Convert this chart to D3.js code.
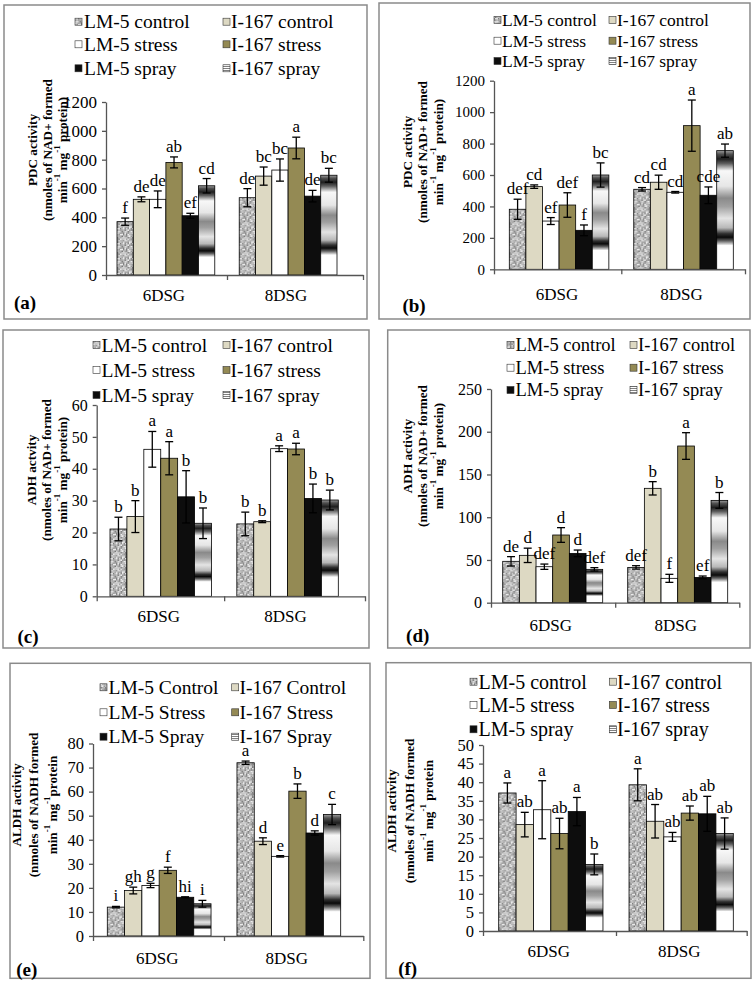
<!DOCTYPE html>
<html><head><meta charset="utf-8">
<script src="https://cdn.jsdelivr.net/npm/d3@7/dist/d3.min.js"></script>
<style>
body{margin:0;background:#fff}
svg{display:block}
text{font-family:"Liberation Serif","Times New Roman",serif;fill:#000}
</style>
</head><body>
<svg id="chart" width="753" height="981"></svg>
<script>
// ---------------- DATA ----------------
const categories = ["6DSG", "8DSG"];
const seriesNames = ["LM-5 control", "I-167 control", "LM-5 stress", "I-167 stress", "LM-5 spray", "I-167 spray"];
const seriesNamesCap = ["LM-5 Control", "I-167 Control", "LM-5 Stress", "I-167 Stress", "LM-5 Spray", "I-167 Spray"];

// (a) PDC activity
const aTicks = [0, 200, 400, 600, 800, 1000, 1200];
const aMean6 = [370, 525, 525, 781, 411, 619];
const aMean8 = [536, 686, 728, 881, 547, 692];
const aErr6 = [25, 17, 58, 38, 17, 50];
const aErr8 = [63, 63, 77, 75, 40, 48];
const aLet6 = ["f", "de", "de", "ab", "ef", "cd"];
const aLet8 = ["de", "bc", "bc", "a", "de", "bc"];

// (b) PDC activity
const bTicks = [0, 200, 400, 600, 800, 1000, 1200];
const bMean6 = [382, 526, 307, 409, 248, 600];
const bMean8 = [509, 554, 490, 914, 471, 755];
const bErr6 = [64, 11, 22, 78, 34, 77];
const bErr8 = [11, 45, 5, 163, 53, 42];
const bLet6 = ["def", "cd", "ef", "def", "f", "bc"];
const bLet8 = ["cd", "cd", "cd", "a", "cde", "ab"];

// (c) ADH activity
const cTicks = [0, 10, 20, 30, 40, 50, 60];
const cMean6 = [21.1, 25.0, 46.1, 43.3, 31.2, 22.9];
const cMean8 = [22.7, 23.4, 46.3, 46.2, 30.7, 30.2];
const cErr6 = [3.7, 5.0, 5.6, 5.2, 8.2, 4.8];
const cErr8 = [3.7, 0.3, 0.9, 1.8, 4.5, 3.1];
const cLet6 = ["b", "b", "a", "a", "b", "b"];
const cLet8 = ["b", "b", "a", "a", "b", "b"];

// (d) ADH activity
const dTicks = [0, 50, 100, 150, 200, 250];
const dMean6 = [48.4, 55.4, 42.1, 79.2, 57.7, 39.0];
const dMean8 = [41.3, 133.8, 28.5, 183.3, 29.6, 119.7];
const dErr6 = [5.5, 8.4, 3.1, 8.6, 3.9, 2.0];
const dErr8 = [2.0, 7.8, 4.7, 15.6, 1.6, 9.2];
const dLet6 = ["de", "d", "def", "d", "d", "def"];
const dLet8 = ["def", "b", "f", "a", "ef", "b"];

// (e) ALDH activity
const eTicks = [0, 10, 20, 30, 40, 50, 60, 70, 80];
const eMean6 = [12.0, 18.9, 21.0, 27.3, 16.1, 13.4];
const eMean8 = [72.0, 39.4, 33.1, 60.2, 42.8, 50.5];
const eErr6 = [0.3, 1.4, 0.9, 1.3, 0.2, 1.4];
const eErr8 = [0.7, 1.4, 0.3, 3.0, 0.9, 4.2];
const eLet6 = ["i", "gh", "g", "f", "hi", "i"];
const eLet8 = ["a", "d", "e", "b", "d", "c"];

// (f) ALDH activity
const fTicks = [0, 5, 10, 15, 20, 25, 30, 35, 40, 45, 50];
const fMean6 = [37.1, 28.6, 32.6, 26.2, 32.1, 17.9];
const fMean8 = [39.3, 29.5, 25.3, 31.7, 31.5, 26.2];
const fErr6 = [2.7, 3.3, 7.8, 4.1, 3.8, 2.8];
const fErr8 = [4.3, 4.5, 1.2, 1.9, 4.7, 4.2];
const fLet6 = ["a", "ab", "a", "ab", "a", "b"];
const fLet8 = ["a", "ab", "ab", "ab", "ab", "ab"];

// axis titles
const titlePDC = ["PDC activity", "(nmoles of NAD+ formed", [["min"], ["-1", 1], [" mg"], ["-1", 1], [" protein)"]]];
const titleADHc = ["ADH actvity", "(nmoles of NAD+ formed", [["min"], ["-1", 1], [" mg"], ["-1", 1], [" protein)"]]];
const titleADHd = ["ADH activity", "(nmoles of NAD+ formed", [["min"], ["-1", 1], [" mg"], ["-1", 1], [" protein)"]]];
const titleALDHe = ["ALDH activity", "(nmoles of NADH formed", [["min"], ["-1", 1], [" mg"], ["-1", 1], ["protein"]]];
const titleALDHf = ["ALDH activity", "(nmoles of NADH formed", [["min"], ["-1", 1], [" mg"], ["-1", 1], [" protein"]]];

// ---------------- STYLE / LAYOUT ----------------
const fills = ["url(#granite)", "#DDD9C3", "#FFFFFF", "#948A54", "#0d0d0d", "url(#chrome)"];
const legendFills = ["url(#granite)", "#DDD9C3", "#FFFFFF", "#948A54", "#0d0d0d", "url(#stripes)"];

const panels = [
  {tag: "(a)", ticks: aTicks, mean: [aMean6, aMean8], err: [aErr6, aErr8], lets: [aLet6, aLet8], names: seriesNames, title: titlePDC,
   box: [4, 5, 367, 319], axisX: 106, axisEnd: 363, y0: 275, yTop: 102, bars: [117, 337], tickFs: 17,
   legRows: [21.7, 44.3, 68.3], legSw: [75, 223], legTx: [84, 231], legFs: 19.5,
   titleX: [32, 47, 62], titleY: 150, catY: 295, tagPos: [25, 302]},
  {tag: "(b)", ticks: bTicks, mean: [bMean6, bMean8], err: [bErr6, bErr8], lets: [bLet6, bLet8], names: seriesNames, title: titlePDC,
   box: [379, 3, 750, 319], axisX: 494, axisEnd: 745, y0: 269.3, yTop: 80.7, bars: [509.3, 733.3], tickFs: 15,
   legRows: [20, 40.7, 61], legSw: [494, 609], legTx: [502, 617], legFs: 17.5,
   titleX: [407.7, 422.7, 437.7], titleY: 152, catY: 294, tagPos: [414, 305]},
  {tag: "(c)", ticks: cTicks, mean: [cMean6, cMean8], err: [cErr6, cErr8], lets: [cLet6, cLet8], names: seriesNames, title: titleADHc,
   box: [3, 330, 369, 648], axisX: 96.7, axisEnd: 365, y0: 596.3, yTop: 405, bars: [110, 338.3], tickFs: 16,
   legRows: [345, 370, 395], legSw: [93, 223], legTx: [101.5, 230.5], legFs: 19.5,
   titleX: [31.7, 46.7, 61.7], titleY: 470, catY: 616.7, tagPos: [28, 636.7]},
  {tag: "(d)", ticks: dTicks, mean: [dMean6, dMean8], err: [dErr6, dErr8], lets: [dLet6, dLet8], names: seriesNames, title: titleADHd,
   box: [387.7, 330, 750, 648], axisX: 491, axisEnd: 739.3, y0: 602.7, yTop: 389, bars: [502.7, 727.7], tickFs: 16,
   legRows: [345, 367.7, 390], legSw: [507, 630], legTx: [515.5, 638], legFs: 18.5,
   titleX: [407.7, 422.7, 437.7], titleY: 456, catY: 625, tagPos: [417.7, 635]},
  {tag: "(e)", ticks: eTicks, mean: [eMean6, eMean8], err: [eErr6, eErr8], lets: [eLet6, eLet8], names: seriesNamesCap, title: titleALDHe,
   box: [10, 663.3, 370, 978.3], axisX: 93, axisEnd: 363.3, y0: 936, yTop: 743.5, bars: [107.3, 340.7], tickFs: 16.5,
   legRows: [687.3, 712.3, 736.7], legSw: [100, 231.7], legTx: [108.5, 239.5], legFs: 19.5,
   titleX: [16, 33.3, 51.7], titleY: 805, catY: 958.3, tagPos: [26.7, 969]},
  {tag: "(f)", ticks: fTicks, mean: [fMean6, fMean8], err: [fErr6, fErr8], lets: [fLet6, fLet8], names: seriesNames, title: titleALDHf,
   box: [386, 662.7, 751, 978.3], axisX: 483, axisEnd: 746.7, y0: 931, yTop: 745, bars: [498.7, 733.3], tickFs: 16.5,
   legRows: [681.7, 705, 729.3], legSw: [470, 609.3], legTx: [478.5, 617], legFs: 20,
   titleX: [391, 409.3, 427.7], titleY: 811, catY: 951.7, tagPos: [407.7, 968]}
];

// ---------------- DEFS ----------------
const svg = d3.select("#chart");
const defs = svg.append("defs");

// granite texture (deterministic)
const gran = defs.append("pattern").attr("id", "granite").attr("patternUnits", "userSpaceOnUse")
  .attr("width", 15).attr("height", 15);
gran.append("rect").attr("width", 15).attr("height", 15).attr("fill", "#bdbdbd");
function hash(i) { const x = Math.sin(i * 12.9898 + 78.233) * 43758.5453; return x - Math.floor(x); }
for (let r = 0; r < 10; r++) {
  for (let c = 0; c < 10; c++) {
    const h = hash(r * 10 + c);
    const v = Math.round(120 + h * 120);
    gran.append("rect").attr("x", c * 1.5).attr("y", r * 1.5).attr("width", 1.5 + (h > 0.55 ? 1.5 : 0)).attr("height", 1.5 + (h < 0.35 ? 1.5 : 0))
      .attr("fill", d3.rgb(v, v, v));
  }
}

// chrome gradient for I-167 spray bars
const chromeStops = [
  [0, "#a0a0a0"], [0.03, "#505050"], [0.07, "#1e1e1e"], [0.11, "#606060"], [0.17, "#f8f8f8"],
  [0.30, "#e6e6e6"], [0.40, "#8a8a8a"], [0.47, "#a0a0a0"], [0.57, "#e4e4e4"], [0.65, "#b8b8b8"],
  [0.70, "#303030"], [0.73, "#0a0a0a"], [0.76, "#606060"], [0.80, "#ffffff"], [1, "#ffffff"]
];
const chrome = defs.append("linearGradient").attr("id", "chrome").attr("x1", 0).attr("y1", 0).attr("x2", 0).attr("y2", 1);
chromeStops.forEach(s => chrome.append("stop").attr("offset", s[0]).attr("stop-color", s[1]));

// stripes for legend
const stripes = defs.append("pattern").attr("id", "stripes").attr("patternUnits", "userSpaceOnUse").attr("width", 4).attr("height", 2);
stripes.append("rect").attr("width", 4).attr("height", 2).attr("fill", "#ffffff");
stripes.append("rect").attr("width", 4).attr("height", 1).attr("fill", "#808080");

// ---------------- DRAW ----------------
function drawPanel(p) {
  const g = svg.append("g");
  g.append("rect").attr("x", p.box[0]).attr("y", p.box[1])
    .attr("width", p.box[2] - p.box[0]).attr("height", p.box[3] - p.box[1])
    .attr("fill", "none").attr("stroke", "#8a8a8a").attr("stroke-width", 1.5);

  const yMax = p.ticks[p.ticks.length - 1];
  const y = d3.scaleLinear().domain([0, yMax]).range([p.y0, p.yTop]);
  const x0 = d3.scaleBand().domain(categories).range(p.bars).paddingInner(0.2).paddingOuter(0);
  const x1 = d3.scaleBand().domain(d3.range(seriesNames.length)).range([0, x0.bandwidth()]).padding(0);

  // bars
  categories.forEach((cat, ci) => {
    const gg = g.append("g").attr("transform", `translate(${x0(cat)},0)`);
    const rows = p.mean[ci].map((v, si) => ({v, e: p.err[ci][si], l: p.lets[ci][si], si}));
    gg.selectAll("rect.bar").data(rows).join("rect").attr("class", "bar")
      .attr("x", d => x1(d.si)).attr("width", x1.bandwidth())
      .attr("y", d => y(d.v)).attr("height", d => y(0) - y(d.v))
      .attr("fill", d => fills[d.si]).attr("stroke", "#000").attr("stroke-width", 0.8);
    // error bars
    const eb = gg.selectAll("g.err").data(rows).join("g").attr("class", "err");
    const cx = d => x1(d.si) + x1.bandwidth() / 2;
    eb.append("line").attr("x1", cx).attr("x2", cx).attr("y1", d => y(d.v + d.e)).attr("y2", d => y(d.v - d.e))
      .attr("stroke", "#000").attr("stroke-width", 1.3);
    eb.append("line").attr("x1", d => cx(d) - 4).attr("x2", d => cx(d) + 4).attr("y1", d => y(d.v + d.e)).attr("y2", d => y(d.v + d.e))
      .attr("stroke", "#000").attr("stroke-width", 1.3);
    eb.append("line").attr("x1", d => cx(d) - 4).attr("x2", d => cx(d) + 4).attr("y1", d => y(d.v - d.e)).attr("y2", d => y(d.v - d.e))
      .attr("stroke", "#000").attr("stroke-width", 1.3);
    // significance letters
    gg.selectAll("text.sig").data(rows).join("text").attr("class", "sig")
      .attr("x", cx).attr("y", d => y(d.v + d.e) - 5)
      .attr("text-anchor", "middle").attr("font-size", 17).text(d => d.l);
  });

  // y axis
  const ya = g.append("g").attr("transform", `translate(${p.axisX},0)`)
    .call(d3.axisLeft(y).tickValues(p.ticks).tickSize(4).tickSizeOuter(0).tickPadding(5).tickFormat(d3.format("d")));
  ya.select(".domain").attr("stroke", "#555").attr("stroke-width", 1.3);
  ya.selectAll(".tick line").attr("stroke", "#555").attr("stroke-width", 1.3);
  ya.selectAll(".tick text").attr("font-size", p.tickFs).attr("fill", "#000");

  // x axis: ticks at both ends and between the category groups
  const gapMid = (x0(categories[0]) + x0.bandwidth() + x0(categories[1])) / 2;
  const xb = d3.scaleIdentity().domain([p.axisX, p.axisEnd]);
  const xa = g.append("g").attr("transform", `translate(0,${p.y0})`)
    .call(d3.axisBottom(xb).tickValues([p.axisX, gapMid, p.axisEnd]).tickSize(5).tickSizeOuter(0).tickFormat(""));
  xa.select(".domain").attr("stroke", "#555").attr("stroke-width", 1.3);
  xa.selectAll(".tick line").attr("stroke", "#555").attr("stroke-width", 1.3);

  // category labels
  g.selectAll("text.cat").data(categories).join("text").attr("class", "cat")
    .attr("x", d => x0(d) + x0.bandwidth() / 2 - 2).attr("y", p.catY)
    .attr("text-anchor", "middle").attr("dominant-baseline", "central").attr("font-size", 17).text(d => d);

  // y title
  p.title.forEach((line, li) => {
    const t = g.append("text").attr("transform", `translate(${p.titleX[li]},${p.titleY}) rotate(-90)`)
      .attr("text-anchor", "middle").attr("dominant-baseline", "central")
      .attr("font-size", 13.2).attr("font-weight", "bold");
    if (typeof line === "string") t.text(line);
    else line.forEach(seg => {
      const ts = t.append("tspan").text(seg[0]);
      if (seg[1]) ts.attr("font-size", 9).attr("baseline-shift", "super");
    });
  });

  // legend
  p.names.forEach((nm, i) => {
    const row = Math.floor(i / 2), col = i % 2;
    const cy = p.legRows[row];
    g.append("rect").attr("x", p.legSw[col]).attr("y", cy - 3.5).attr("width", 7).attr("height", 7)
      .attr("fill", legendFills[i]).attr("stroke", "#333").attr("stroke-width", 0.6);
    g.append("text").attr("x", p.legTx[col]).attr("y", cy).attr("dominant-baseline", "central")
      .attr("font-size", p.legFs).text(nm);
  });

  // panel tag
  g.append("text").attr("x", p.tagPos[0]).attr("y", p.tagPos[1]).attr("text-anchor", "middle")
    .attr("dominant-baseline", "central").attr("font-size", 19).attr("font-weight", "bold").text(p.tag);
}

panels.forEach(drawPanel);
</script>
</body></html>
